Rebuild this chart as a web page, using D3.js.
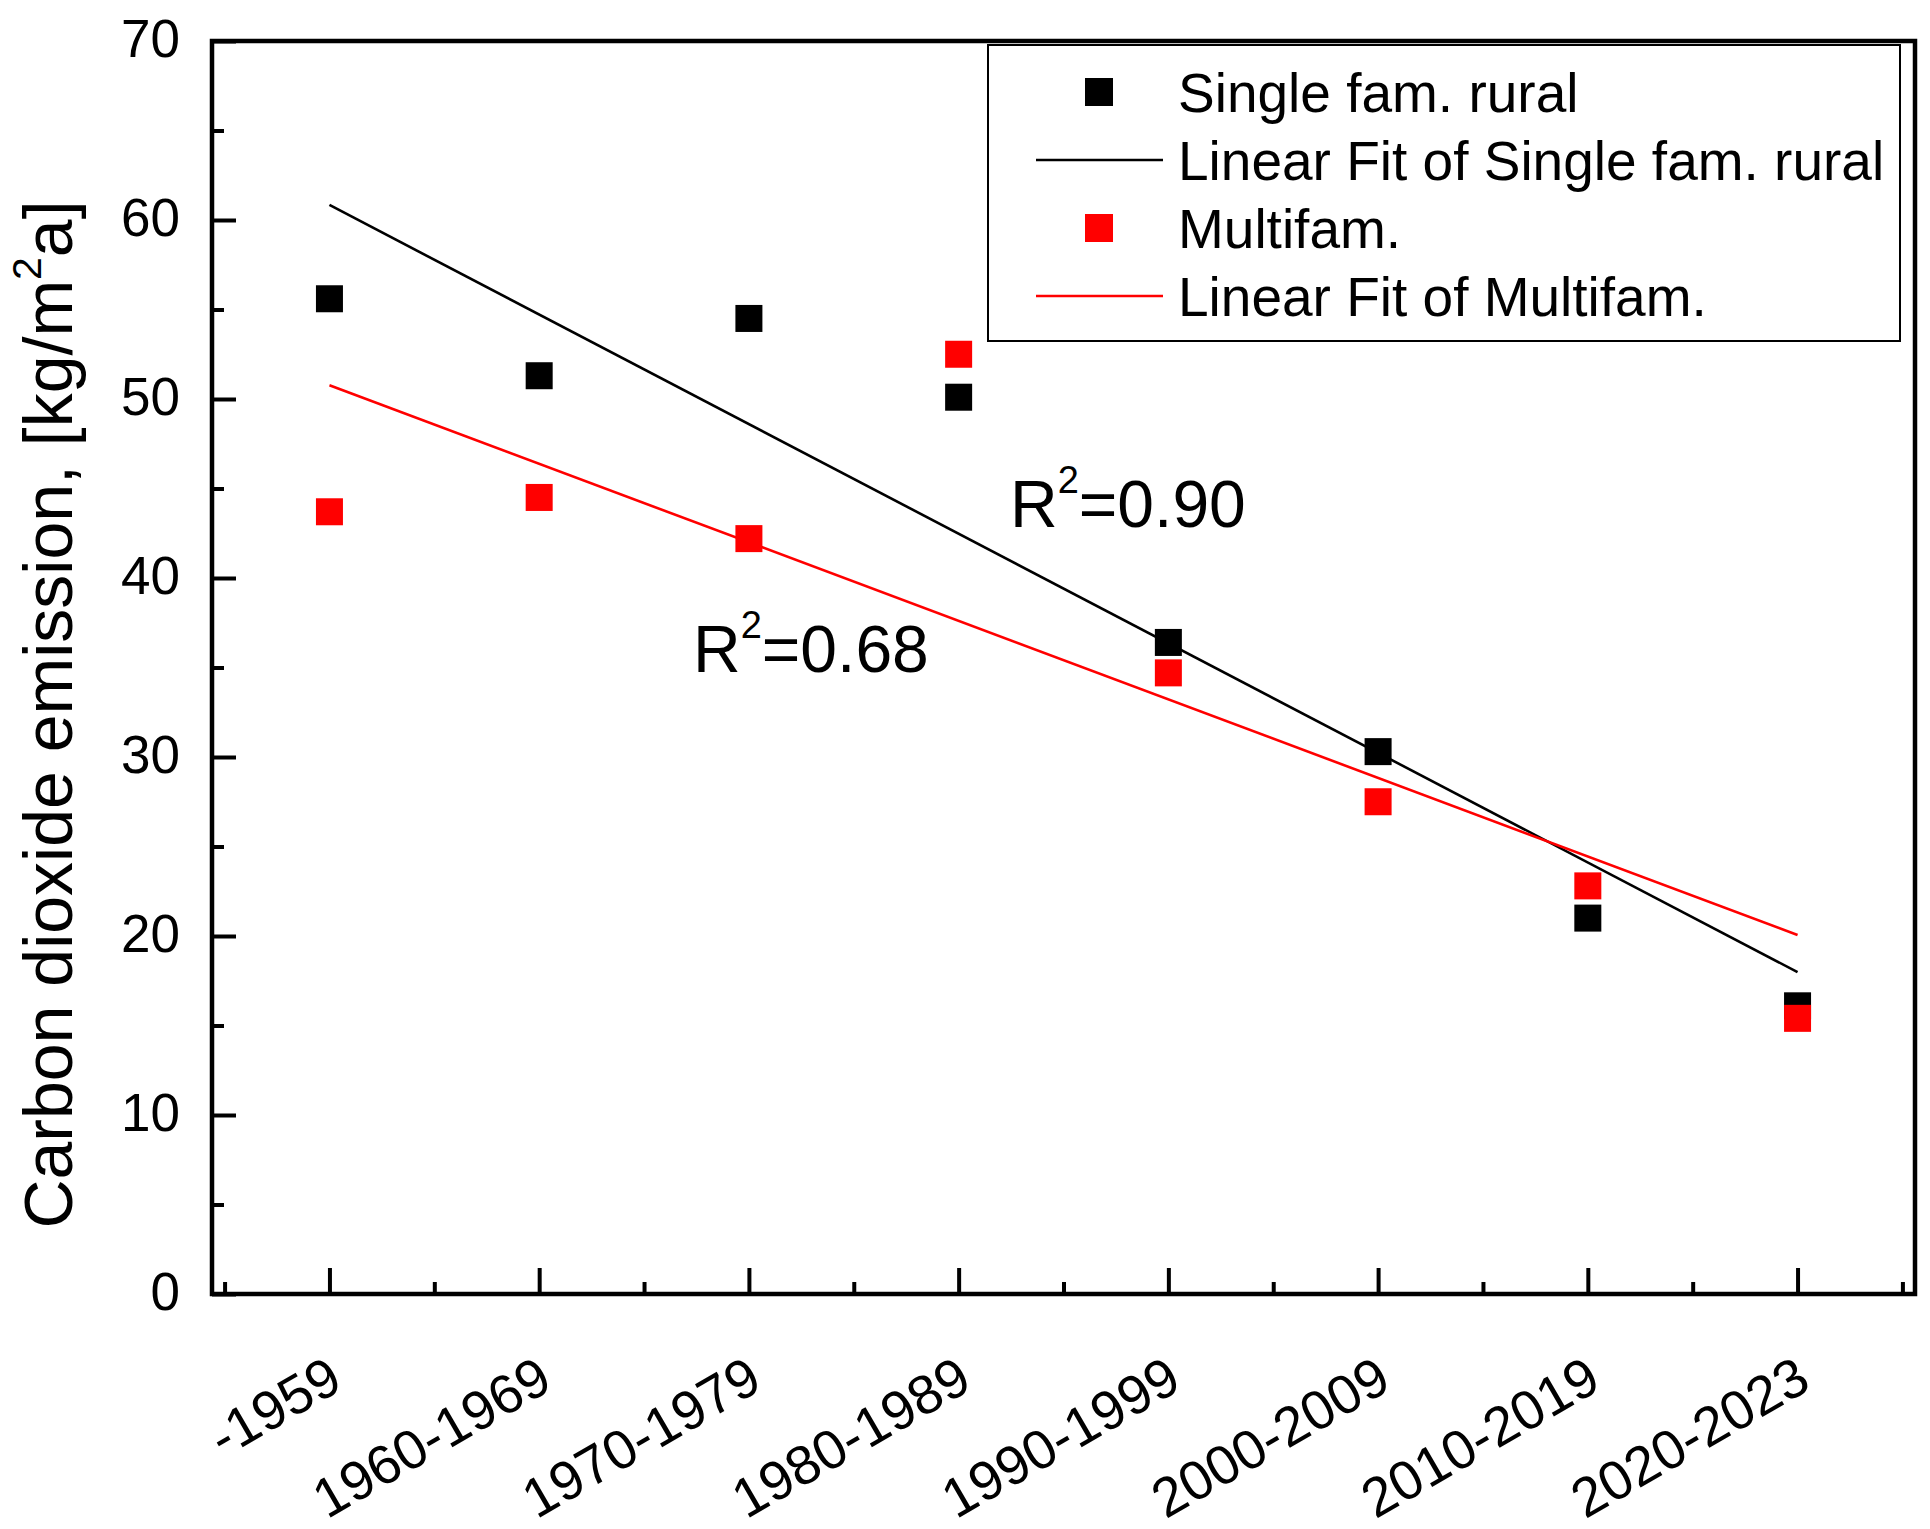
<!DOCTYPE html>
<html>
<head>
<meta charset="utf-8">
<script src="https://cdn.jsdelivr.net/npm/d3@7"></script>
<style>
  html, body { margin: 0; padding: 0; background: #fff; }
  svg { display: block; font-family: "Liberation Sans", Arial, sans-serif; }
</style>
</head>
<body>
<svg id="chart"></svg>
<script>
// Data
const periods = ["-1959", "1960-1969", "1970-1979", "1980-1989", "1990-1999", "2000-2009", "2010-2019", "2020-2023"];
const singleFamRural = [55.6, 51.3, 54.5, 50.1, 36.4, 30.3, 21.0, 16.1];
const multiFam = [43.7, 44.5, 42.2, 52.5, 34.7, 27.5, 22.8, 15.4];
const yTicks = [0, 10, 20, 30, 40, 50, 60, 70];
const r2Labels = ["0.90", "0.68"];

const width = 1930, height = 1529;
const margin = { top: 41, right: 15, bottom: 235, left: 212 };

const svg = d3.select("#chart").attr("width", width).attr("height", height);

const x = d3.scaleLinear()
  .domain([-0.56, periods.length - 1 + 0.56])
  .range([margin.left, width - margin.right]);

const y = d3.scaleLinear()
  .domain([0, 70])
  .range([height - margin.bottom, margin.top]);

// least squares fit over category index
function linearFit(values) {
  const xs = values.map((d, i) => i);
  const mx = d3.mean(xs), my = d3.mean(values);
  const sxy = d3.sum(xs, (xi, i) => (xi - mx) * (values[i] - my));
  const sxx = d3.sum(xs, xi => (xi - mx) * (xi - mx));
  const slope = sxy / sxx;
  const intercept = my - slope * mx;
  return [0, values.length - 1].map(i => ({ i: i, v: intercept + slope * i }));
}

const series = [
  { name: "Single fam. rural", values: singleFamRural, color: "#000000" },
  { name: "Multifam.", values: multiFam, color: "#ff0000" }
];

const bottomY = height - margin.bottom;

// y axis ticks (inward)
svg.append("g")
  .attr("transform", `translate(${margin.left},0)`)
  .call(d3.axisRight(y).tickValues(d3.range(5, 70, 10)).tickSize(12).tickFormat("").tickSizeOuter(0))
  .call(g => g.select(".domain").remove())
  .call(g => g.selectAll("line").attr("stroke-width", 4));

svg.append("g")
  .attr("transform", `translate(${margin.left},0)`)
  .call(d3.axisRight(y).tickValues(yTicks).tickSize(24).tickSizeOuter(0))
  .call(g => g.select(".domain").remove())
  .call(g => g.selectAll("line").attr("stroke-width", 4))
  .call(g => g.selectAll("text")
    .attr("x", -32)
    .attr("dy", "0.3em")
    .attr("text-anchor", "end")
    .attr("font-size", 53)
    .attr("font-family", "'Liberation Sans', Arial, sans-serif")
    .attr("fill", "#000"));

// x axis ticks (inward)
svg.append("g")
  .attr("transform", `translate(0,${bottomY})`)
  .call(d3.axisTop(x).tickValues(d3.range(-0.5, periods.length, 1)).tickSize(12).tickFormat("").tickSizeOuter(0))
  .call(g => g.select(".domain").remove())
  .call(g => g.selectAll("line").attr("stroke-width", 4));

svg.append("g")
  .attr("transform", `translate(0,${bottomY})`)
  .call(d3.axisTop(x).tickValues(d3.range(periods.length)).tickSize(26)
    .tickFormat(i => periods[i]).tickSizeOuter(0))
  .call(g => g.select(".domain").remove())
  .call(g => g.selectAll("line").attr("stroke-width", 4))
  .call(g => g.selectAll("text")
    .attr("y", 0)
    .attr("dy", 0)
    .attr("text-anchor", "end")
    .attr("transform", "translate(15,94) rotate(-30)")
    .attr("font-size", 55)
    .attr("font-family", "'Liberation Sans', Arial, sans-serif")
    .attr("fill", "#000"));

// frame
svg.append("rect")
  .attr("x", margin.left)
  .attr("y", margin.top)
  .attr("width", width - margin.right - margin.left)
  .attr("height", bottomY - margin.top)
  .attr("fill", "none")
  .attr("stroke", "#000")
  .attr("stroke-width", 4.5);

// markers and fits
const sq = 27;
series.forEach(s => {
  svg.append("g")
    .selectAll("rect")
    .data(s.values)
    .join("rect")
    .attr("x", (d, i) => x(i) - sq / 2)
    .attr("y", d => y(d) - sq / 2)
    .attr("width", sq)
    .attr("height", sq)
    .attr("fill", s.color);

  svg.append("path")
    .datum(linearFit(s.values))
    .attr("fill", "none")
    .attr("stroke", s.color)
    .attr("stroke-width", 2.6)
    .attr("d", d3.line().x(d => x(d.i)).y(d => y(d.v)));
});

// R squared annotations
const r2Pos = [[1010, 527], [693, 672]];
r2Labels.forEach((lab, k) => {
  const t = svg.append("text")
    .attr("x", r2Pos[k][0])
    .attr("y", r2Pos[k][1])
    .attr("font-size", 66)
    .attr("fill", "#000");
  t.append("tspan").text("R");
  t.append("tspan").attr("font-size", 38).attr("dy", -34).text("2");
  t.append("tspan").attr("dy", 34).text("=" + lab);
});

// legend
const legend = svg.append("g");
legend.append("rect")
  .attr("x", 988).attr("y", 45)
  .attr("width", 912).attr("height", 296)
  .attr("fill", "#fff")
  .attr("stroke", "#000")
  .attr("stroke-width", 2);

const legendItems = [
  { label: "Single fam. rural", color: "#000000", type: "square" },
  { label: "Linear Fit of Single fam. rural", color: "#000000", type: "line" },
  { label: "Multifam.", color: "#ff0000", type: "square" },
  { label: "Linear Fit of Multifam.", color: "#ff0000", type: "line" }
];

legendItems.forEach((d, k) => {
  const cy = 92 + k * 68;
  if (d.type === "square") {
    legend.append("rect")
      .attr("x", 1099 - 14).attr("y", cy - 14)
      .attr("width", 28).attr("height", 28)
      .attr("fill", d.color);
  } else {
    legend.append("line")
      .attr("x1", 1036).attr("x2", 1163)
      .attr("y1", cy).attr("y2", cy)
      .attr("stroke", d.color)
      .attr("stroke-width", 2.6);
  }
  legend.append("text")
    .attr("x", 1178)
    .attr("y", cy + 19.5)
    .attr("font-size", 55)
    .attr("fill", "#000")
    .text(d.label);
});

// y axis title
const yTitle = svg.append("text")
  .attr("transform", `translate(72,${(margin.top + bottomY) / 2 + 47}) rotate(-90)`)
  .attr("text-anchor", "middle")
  .attr("font-size", 68)
  .attr("fill", "#000");
yTitle.append("tspan").text("Carbon dioxide emission, [kg/m");
yTitle.append("tspan").attr("font-size", 41).attr("dy", -31).text("2");
yTitle.append("tspan").attr("dy", 31).text("a]");
</script>
</body>
</html>
